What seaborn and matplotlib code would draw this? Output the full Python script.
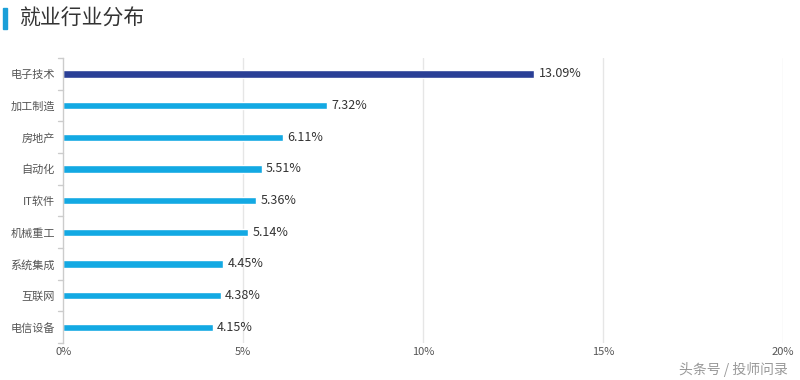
import matplotlib
matplotlib.use('Agg')
import matplotlib.pyplot as plt
import seaborn as sns
import pandas as pd
from matplotlib.patches import Rectangle

# data
industries = ['电子技术', '加工制造', '房地产', '自动化', 'IT软件', '机械重工', '系统集成', '互联网', '电信设备']
shares = [13.09, 7.32, 6.11, 5.51, 5.36, 5.14, 4.45, 4.38, 4.15]
bar_colors = ['#2a3f96'] + ['#13a9e3'] * 8
x_ticks = [0, 5, 10, 15, 20]

df = pd.DataFrame({'industry': industries, 'share': shares})

sns.set_style('white')
plt.rcParams['font.family'] = ['Noto Sans CJK SC', 'DejaVu Sans']

fig = plt.figure(figsize=(8, 3.8), dpi=100)
ax = fig.add_axes([0.079, 0.097, 0.9, 0.75])

sns.barplot(data=df, x='share', y='industry', hue='industry', palette=bar_colors,
            orient='h', width=0.24, saturation=1, legend=False, ax=ax)

for i, v in enumerate(shares):
    ax.text(v + 0.12, i, f'{v:.2f}%', va='center', ha='left', fontsize=9, color='#333333')

ax.set_xlim(0, 20)
ax.set_ylim(len(industries) - 0.5, -0.5)
ax.set_xticks(x_ticks)
ax.set_xticklabels([f'{t}%' for t in x_ticks], fontsize=8, color='#555555')
ax.tick_params(axis='y', labelsize=8, labelcolor='#555555', length=0, pad=6)
ax.tick_params(axis='x', length=0, pad=3)
ax.set_xlabel('')
ax.set_ylabel('')

# vertical grid
for t in x_ticks[1:]:
    ax.axvline(t, color='#e6e6e6', lw=1, zorder=0)

# y axis with small ticks between categories
for s in ['top', 'right', 'bottom']:
    ax.spines[s].set_visible(False)
ax.spines['left'].set_color('#cccccc')
ax.spines['left'].set_linewidth(1)
for b in range(len(industries) + 1):
    ax.plot([-0.15, 0], [b - 0.5, b - 0.5], color='#cccccc', lw=1, clip_on=False)

# title with blue marker
fig.patches.append(Rectangle((0.004, 0.925), 0.005, 0.055, transform=fig.transFigure,
                             color='#1a9fd8'))
fig.text(0.025, 0.952, '就业行业分布', fontsize=15, color='#333333', va='center', ha='left')

# watermark
fig.text(0.985, 0.028, '头条号 / 投师问录', fontsize=10, color='#999999', ha='right', va='center')

plt.savefig('out.png', dpi=100)
